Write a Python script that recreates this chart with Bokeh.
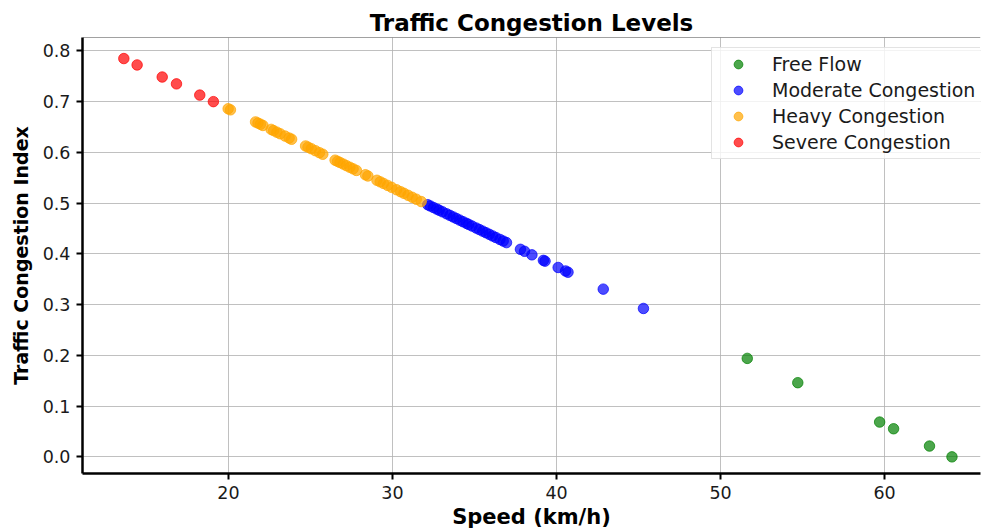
from bokeh.plotting import figure
from bokeh.models import ColumnDataSource, FixedTicker, Range1d, Span, Legend, LegendItem
from bokeh.embed import file_html
from bokeh.resources import INLINE

# ---- data ----
free_speed = [51.63, 54.71, 59.70, 60.55, 62.74, 64.11]
free_index = [0.1941, 0.1462, 0.0686, 0.0554, 0.0213, 0.0000]

moderate_speed = [32.15, 32.3, 32.5, 32.7, 32.85, 33.05, 33.3, 33.5, 33.7, 33.9,
                  34.1, 34.3, 34.5, 34.65, 34.85, 35.1, 35.3, 35.5, 35.7, 35.9,
                  36.1, 36.3, 36.55, 36.75, 36.95, 37.8, 38.05, 38.5, 39.2, 39.3,
                  40.1, 40.55, 40.7, 42.85, 45.3]
moderate_index = [0.4970, 0.4946, 0.4915, 0.4884, 0.4861, 0.4830, 0.4791, 0.4760, 0.4729, 0.4698,
                  0.4666, 0.4635, 0.4604, 0.4581, 0.4550, 0.4511, 0.4480, 0.4449, 0.4418, 0.4387,
                  0.4355, 0.4324, 0.4286, 0.4254, 0.4223, 0.4091, 0.4052, 0.3982, 0.3873, 0.3858,
                  0.3733, 0.3664, 0.3640, 0.3306, 0.2925]

heavy_speed = [19.98, 20.12, 21.65, 21.8, 21.95, 22.1, 22.6, 22.75, 22.95, 23.15,
               23.45, 23.7, 23.85, 24.7, 24.85, 25.05, 25.3, 25.55, 25.75, 26.5,
               26.65, 26.8, 27.0, 27.2, 27.4, 27.6, 27.8, 28.35, 28.5, 29.05,
               29.25, 29.45, 29.7, 29.95, 30.25, 30.5, 30.7, 30.95, 31.2, 31.45, 31.75]
heavy_index = [0.6862, 0.6840, 0.6602, 0.6579, 0.6556, 0.6532, 0.6455, 0.6431, 0.6400, 0.6369,
               0.6323, 0.6284, 0.6260, 0.6128, 0.6105, 0.6074, 0.6035, 0.5996, 0.5965, 0.5848,
               0.5825, 0.5802, 0.5771, 0.5739, 0.5708, 0.5677, 0.5646, 0.5561, 0.5537, 0.5452,
               0.5421, 0.5390, 0.5351, 0.5312, 0.5265, 0.5226, 0.5195, 0.5156, 0.5117, 0.5079, 0.5032]

severe_speed = [13.62, 14.43, 15.96, 16.83, 18.25, 19.08]
severe_index = [0.7851, 0.7725, 0.7487, 0.7352, 0.7131, 0.7002]

categories = ["Free Flow", "Moderate Congestion", "Heavy Congestion", "Severe Congestion"]
colors = ["green", "blue", "orange", "red"]
series = [(free_speed, free_index), (moderate_speed, moderate_index),
          (heavy_speed, heavy_index), (severe_speed, severe_index)]

x_ticks = [20, 30, 40, 50, 60]
y_ticks = [0.0, 0.1, 0.2, 0.3, 0.4, 0.5, 0.6, 0.7, 0.8]

FONT = "DejaVu Sans"

p = figure(width=982, height=531, output_backend="svg", toolbar_location=None,
           x_range=Range1d(11.1, 65.85), y_range=Range1d(-0.0328, 0.8266),
           min_border_left=82, min_border_right=2, min_border_top=37, min_border_bottom=57)

p.title.text = "Traffic Congestion Levels"
p.title.text_font = FONT
p.title.text_font_size = "23px"
p.title.text_font_style = "bold"
p.title.align = "center"
p.title.standoff = 4
p.title.text_color = "black"

items = []
for (xs, ys), name, c in zip(series, categories, colors):
    src = ColumnDataSource(dict(x=xs, y=ys))
    r = p.scatter("x", "y", source=src, size=10.5, fill_color=c, line_color=c,
                  fill_alpha=0.7, line_alpha=0.7)
    items.append(LegendItem(label=name, renderers=[r]))

legend = Legend(items=items, location=(629, 314))
legend.label_text_font = FONT
legend.label_text_font_size = "19px"
legend.label_text_color = "#1a1a1a"
legend.glyph_width = 42
legend.glyph_height = 22
legend.spacing = 4
legend.padding = 5
legend.margin = 0
legend.label_standoff = 13
legend.border_line_color = "#c8c8c8"
legend.border_line_width = 1
legend.background_fill_alpha = 0.8
p.add_layout(legend)

p.outline_line_color = None
p.add_layout(Span(location=0.8266, dimension="width", line_color="#444444", line_width=1))

for ax in (p.xaxis[0], p.yaxis[0]):
    ax.axis_line_width = 2.5
    ax.axis_line_color = "black"
    ax.major_tick_line_width = 2
    ax.major_tick_line_color = "black"
    ax.major_tick_out = 6
    ax.major_tick_in = 0
    ax.minor_tick_line_color = None
    ax.major_label_text_font = FONT
    ax.major_label_text_font_size = "17.5px"
    ax.major_label_text_color = "#1a1a1a"
    ax.axis_label_text_font = FONT
    ax.axis_label_text_font_style = "bold"
    ax.axis_label_text_color = "black"

p.xaxis.axis_label_text_font_size = "21px"
p.yaxis.axis_label_text_font_size = "19px"
p.xaxis.axis_label = "Speed (km/h)"
p.yaxis.axis_label = "Traffic Congestion Index"
p.xaxis.ticker = FixedTicker(ticks=x_ticks)
p.yaxis.ticker = FixedTicker(ticks=y_ticks)
p.yaxis.major_label_overrides = {t: f"{t:.1f}" for t in y_ticks}
p.xaxis.major_label_standoff = 6
p.yaxis.major_label_standoff = 6
p.xaxis.axis_label_standoff = 3
p.yaxis.axis_label_standoff = 8

p.xgrid.ticker = FixedTicker(ticks=x_ticks)
p.ygrid.ticker = FixedTicker(ticks=y_ticks)
p.grid.grid_line_color = "#b0b0b0"
p.grid.grid_line_alpha = 0.8
p.grid.grid_line_width = 1

open("out.html", "w").write(file_html(p, INLINE))
